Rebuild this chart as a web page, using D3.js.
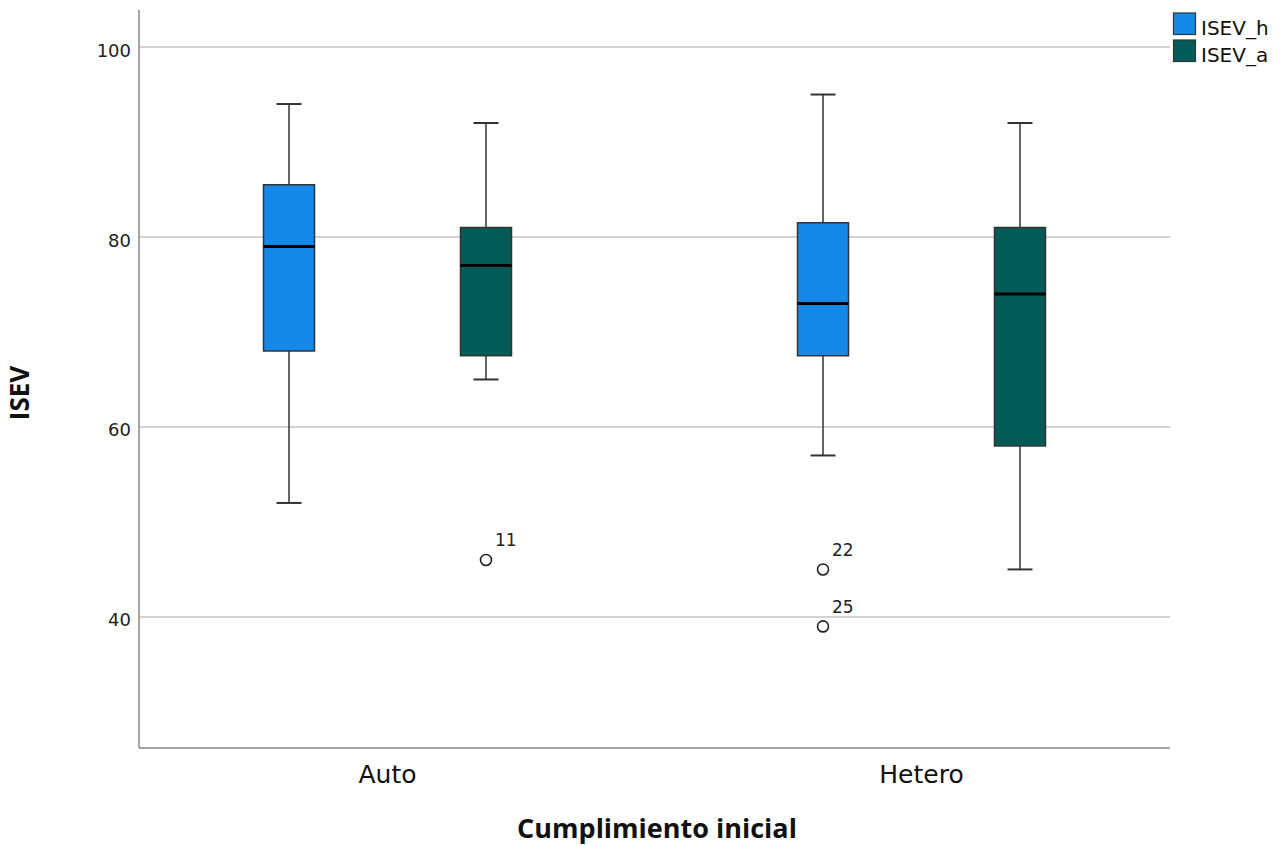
<!DOCTYPE html>
<html><head><meta charset="utf-8">
<script src="https://cdn.jsdelivr.net/npm/d3@7"></script>
<style>body{margin:0;background:#fff;} svg{display:block;}</style>
</head><body>
<svg id="c" width="1284" height="845"></svg>
<script>
const categories = ["Auto", "Hetero"];
const seriesNames = ["ISEV_h", "ISEV_a"];
const seriesColors = ["#1589e8", "#035b58"];
// [category][series]
const whiskerLow  = [[52, 65], [57, 45]];
const q1Values    = [[68, 67.5], [67.5, 58]];
const medians     = [[79, 77], [73, 74]];
const q3Values    = [[85.5, 81], [81.5, 81]];
const whiskerHigh = [[94, 92], [95, 92]];
const outliers = [
  {cat: "Auto", series: 1, value: 46, label: "11"},
  {cat: "Hetero", series: 0, value: 45, label: "22"},
  {cat: "Hetero", series: 0, value: 39, label: "25"}
];
const yTicks = [40, 60, 80, 100];

const svg = d3.select("#c");
const plotL = 139, plotR = 1170, plotT = 10, plotB = 748;
const y = d3.scaleLinear().domain([26.2, 103.9]).range([plotB, plotT]);
const x = d3.scaleBand().domain(categories).range([120.5, 1188.5]);
const sub = d3.scaleBand().domain([0, 1]).range([0, x.bandwidth()]).paddingInner(0.741).paddingOuter(0.726);

// gridlines
svg.append("g").selectAll("line").data(yTicks).join("line")
  .attr("x1", plotL).attr("x2", plotR)
  .attr("y1", d => y(d)).attr("y2", d => y(d))
  .attr("stroke", "#d3d3d3").attr("stroke-width", 2);

// y axis
const yAxis = svg.append("g").attr("transform", `translate(${plotL},0)`)
  .call(d3.axisLeft(y).tickValues(yTicks).tickSize(0).tickPadding(8));
yAxis.select(".domain").remove();
yAxis.selectAll("text").attr("font-family", "DejaVu Sans, sans-serif").attr("font-size", 18)
  .attr("fill", "#222").attr("dy", "0.5em");
svg.append("line").attr("x1", plotL).attr("x2", plotL).attr("y1", plotT).attr("y2", plotB)
  .attr("stroke", "#888").attr("stroke-width", 1.5);

// x axis
const xAxis = svg.append("g").attr("transform", `translate(0,${plotB})`)
  .call(d3.axisBottom(x).tickSize(0).tickPadding(0));
xAxis.select(".domain").remove();
xAxis.selectAll("text").attr("font-family", "DejaVu Sans, sans-serif").attr("font-size", 25)
  .attr("fill", "#111").attr("dy", null).attr("y", 35);
svg.append("line").attr("x1", plotL).attr("x2", plotR).attr("y1", plotB).attr("y2", plotB)
  .attr("stroke", "#888").attr("stroke-width", 1.5);

// boxes
const boxes = [];
categories.forEach((c, ci) => seriesNames.forEach((s, si) => {
  boxes.push({c, si, lo: whiskerLow[ci][si], q1: q1Values[ci][si], med: medians[ci][si], q3: q3Values[ci][si], hi: whiskerHigh[ci][si]});
}));
const bw = sub.bandwidth();
const g = svg.append("g");
boxes.forEach(b => {
  const x0 = x(b.c) + sub(b.si), cx = x0 + bw / 2;
  const stroke = "#333";
  g.append("line").attr("x1", cx).attr("x2", cx).attr("y1", y(b.hi)).attr("y2", y(b.q3)).attr("stroke", stroke).attr("stroke-width", 1.5);
  g.append("line").attr("x1", cx).attr("x2", cx).attr("y1", y(b.q1)).attr("y2", y(b.lo)).attr("stroke", stroke).attr("stroke-width", 1.5);
  g.append("line").attr("x1", cx - 12.5).attr("x2", cx + 12.5).attr("y1", y(b.hi)).attr("y2", y(b.hi)).attr("stroke", stroke).attr("stroke-width", 2);
  g.append("line").attr("x1", cx - 12.5).attr("x2", cx + 12.5).attr("y1", y(b.lo)).attr("y2", y(b.lo)).attr("stroke", stroke).attr("stroke-width", 2);
  g.append("rect").attr("x", x0).attr("width", bw).attr("y", y(b.q3)).attr("height", y(b.q1) - y(b.q3))
    .attr("fill", seriesColors[b.si]).attr("stroke", stroke).attr("stroke-width", 1.5);
  g.append("line").attr("x1", x0).attr("x2", x0 + bw).attr("y1", y(b.med)).attr("y2", y(b.med)).attr("stroke", "#000").attr("stroke-width", 3);
});

// outliers
outliers.forEach(o => {
  const cx = x(o.cat) + sub(o.series) + bw / 2;
  g.append("circle").attr("cx", cx).attr("cy", y(o.value)).attr("r", 5.5)
    .attr("fill", "none").attr("stroke", "#222").attr("stroke-width", 1.6);
  g.append("text").attr("x", cx + 9).attr("y", y(o.value) - 13.5).text(o.label)
    .attr("font-family", "DejaVu Sans, sans-serif").attr("font-size", 17).attr("fill", "#222");
});

// axis titles
svg.append("text").attr("x", 657).attr("y", 838).attr("text-anchor", "middle")
  .attr("font-family", "Open Sans, sans-serif").attr("font-weight", "bold").attr("font-size", 27).attr("fill", "#111")
  .text("Cumplimiento inicial");
svg.append("text").attr("transform", "translate(29,393) rotate(-90)").attr("text-anchor", "middle")
  .attr("font-family", "Open Sans, sans-serif").attr("font-weight", "bold").attr("font-size", 26).attr("fill", "#111")
  .text("ISEV");

// legend
const lg = svg.append("g");
seriesNames.forEach((s, i) => {
  lg.append("rect").attr("x", 1173.5).attr("y", 13 + i * 27).attr("width", 22).attr("height", 21.5)
    .attr("fill", seriesColors[i]).attr("stroke", "#333").attr("stroke-width", 1.2);
  lg.append("text").attr("x", 1201).attr("y", 34.5 + i * 27).text(s)
    .attr("font-family", "DejaVu Sans, sans-serif").attr("font-size", 20).attr("fill", "#111");
});
</script>
</body></html>
